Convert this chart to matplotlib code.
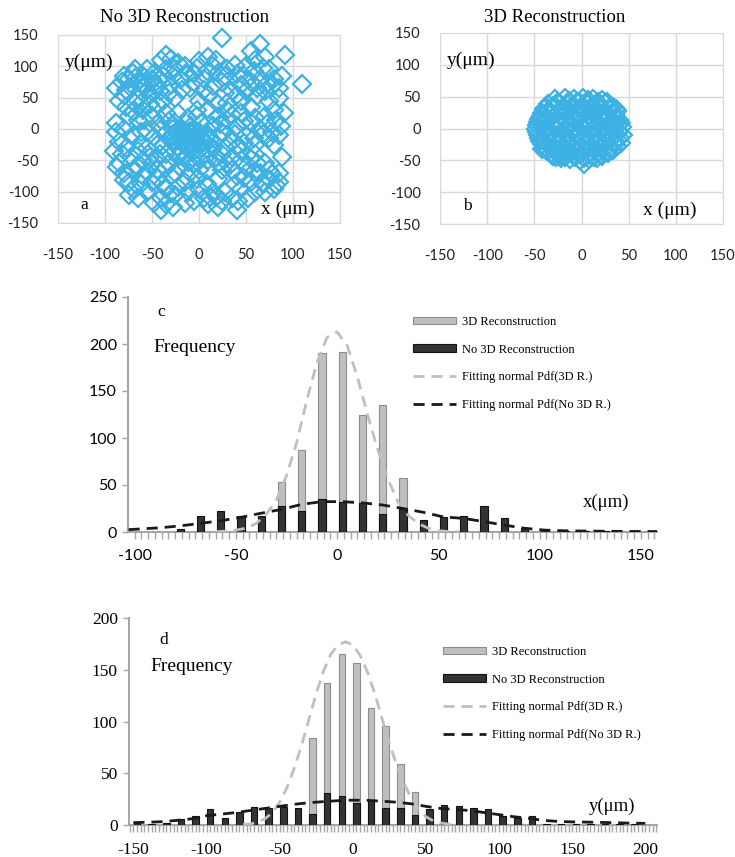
import matplotlib
matplotlib.use("Agg")
import matplotlib.pyplot as plt
from matplotlib.patches import Patch
from matplotlib.lines import Line2D
from matplotlib.ticker import MultipleLocator

plt.rcParams["axes.unicode_minus"] = False

# ---- scatter data (um) ----
a_x = [25, 65, 55, 92, -35, -30, -40, 10, 0, 60, 70, -15, 15, 50, -68, -55, -25, 30, 75, -5, 20, 40, -48, -70,
       110, -80, -75, -60, -50, -38, -20, 5, 80, 65, -65, 25, -58, -45, -30, 45, -72, 85, -62, -42, 35, 50, 70,
       -80, -52, 62, 85, -85, -45, 45, 75, -10, 10, -25, 0, 20, -60, 30,
       55, 80, -60, -35, 45, -75, -50, 20, 70, -65, 30, -88, -25, 2, 55, -8, 15, 40, 87, -80, -40, -18, 65, -10,
       -55, -20, 0, 25, -15, -5, -12, -70, 10, 50, 8, -3, -30, -20, 75, -15, 5, 35, -85, 12, -25, -6, -18, 0,
       60, 80, -12, -78, -10, 15, -55, -5, -25, -65, 45, -35, 5, 25, -45, 60, -22, -8, -28, 20, 30, -2, -40, 40,
       -15, 35, -60, -85, -5, 30, 70, -65, -20, 50, -45, 25, 75, -80, -10, 65, -60, -30, 40, 20, 75, -75, -50,
       -15, 55, 85, 82, -70, -35, 0, 45, 80, -55, 15, 60, -75, -25, -40, 5, 35, -5, 10, -35, 20, -40, 40, -87,
       -45, 10, 55,
       -82, -78, -68, -62, -55, -48, -42, -35, -28, -22, -12, -2, 8, 18, 28, 38, 48, 58, 68, 78, 72, 62, 55,
       40, 28, 15, 5, -5, -18, -32, -38, -52, -68, -78, -70, -58, -45, -32, -22, -12, -2, 10, 22, 35, 48, 60,
       72, 82, 78, 68, 58, 48, 38, 28, 18, 8, -2, -12, -22, -32, -42, -52, -62, -72, -82, -88, -62, -48, -38,
       -28, -18, -8, -15, -22, -5, 2, -10, -17, 3, -28, -70, -62, -55, -45, -38, -30, -22, -12, -2, 8, 18, 28,
       38, 48, 58, 68, 78, 62, 52, 42, 25, 12, -15, -28, -48, -65, -80, 70, 85, 88, 85, 90, 88, -88, -90, 45,
       -25, 10, 0, -35, 35, 20, -50]
a_y = [145, 135, 125, 118, 118, 112, 110, 115, 108, 110, 115, 100, 100, 100, 95, 95, 95, 95, 95, 90, 90, 88, 90, 90,
       72, 85, 80, 85, 80, 85, 80, 80, 80, 80, 75, 75, 70, 70, 70, 70, 65, 65, 60, 60, 60, 60, 60,
       55, 55, 52, 50, 45, 40, 45, 45, 65, 55, 50, 45, 40, 45, 42,
       35, 30, 30, 25, 25, 20, 20, 20, 20, 15, 15, 10, 10, 10, 10, 5, 5, 5, 5, 0, 0, 0, 0, -3,
       -5, -5, -5, -5, -8, -12, -12, -10, -10, -10, -10, -15, -15, -15, -15, -20, -20, -20, -20, -18, -20, -22, -22, -25,
       -25, -25, -25, -30, -30, -30, -30, -35, -35, -35, -35, -40, -40, -40, -25, -40, -8, -5, 0, -12, 30, 20, 15, -28,
       -45, -45, -50, -55, -55, -55, -55, -60, -60, -60, -65, -65, -65, -70, -70, -70, -75, -75, -75, -80, -80, -85, -85,
       -85, -85, -85, -90, -95, -95, -95, -95, -95, -100, -100, -100, -105, -105, -110, -110, -110, -115, -120, -120, -125, -130, -130, -60,
       -48, -50, -48,
       75, 62, 82, 72, 62, 72, 80, 95, 85, 105, 88, 98, 92, 110, 85, 102, 85, 92, 98, 68, 72, 65, 75,
       55, 58, 68, 62, 75, 62, 58, 45, 40, 42, 35, 28, 15, 8, 12, 25, 18, 30, 32, 8, 22, 12, 18,
       8, 15, -5, -8, -15, -22, -8, -28, -45, -32, -45, -52, -45, -55, -40, -45, -22, -45, -40, -5, -5, -12, -25,
       -8, -35, -8, -15, -28, -18, -12, -20, -2, -30, -18, -65, -88, -68, -78, -88, -102, -92, -100, -80, -88, -108, -100,
       -88, -78, -68, -88, -72, -55, -110, -115, -115, -108, -118, -125, -118, -110, -82, -100, -70, -45, -10, 25, 85, 65, -35, -50,
       -70, -65, -65, -62, -65, -55, -55]

b_x = [-28, -18, -8, 2, 12, 22,
       -35, -25, -15, -5, 5, 15, 25, 33,
       -40, -30, -20, -10, 0, 10, 20, 30, 38,
       -43, -33, -23, -13, -3, 7, 17, 27, 37,
       -46, -36, -26, -16, -6, 4, 14, 24, 34, 42,
       -48, -38, -28, -18, -8, 2, 12, 22, 32, 43,
       -46, -36, -26, -16, -6, 4, 14, 24, 34, 44,
       -44, -34, -24, -14, -4, 6, 16, 26, 36, 42,
       -40, -30, -20, -10, 0, 10, 20, 30, 38,
       -32, -22, -12, -2, 8, 18, 28,
       -22, -12, -2, 8, 16, 3, -30, -42,
       -25, -13, -3, 7, 17, 27,
       -38, -30, -20, -10, 0, 10, 20, 30, 37,
       -42, -35, -25, -15, -5, 5, 15, 25, 35,
       -45, -38, -28, -18, -8, 2, 12, 22, 32, 40,
       -47, -41, -31, -21, -11, -1, 9, 19, 29, 39,
       -47, -41, -31, -21, -11, -1, 9, 19, 29, 40,
       -45, -39, -29, -19, -9, 1, 11, 21, 31, 41,
       -42, -35, -25, -15, -5, 5, 15, 25, 35,
       -37, -27, -17, -7, 3, 13, 23, 33,
       -27, -17, -7, 3, 13, 22]
b_y = [46, 48, 47, 48, 46, 44,
       38, 40, 39, 41, 40, 38, 40, 34,
       30, 31, 29, 30, 31, 29, 30, 29, 27,
       20, 21, 19, 20, 21, 19, 20, 21, 18,
       10, 11, 9, 10, 11, 9, 10, 11, 9, 8,
       0, 1, -1, 0, 1, -1, 0, 1, -1, 2,
       -10, -9, -11, -10, -9, -11, -10, -9, -11, -10,
       -20, -21, -19, -20, -21, -19, -20, -21, -19, -22,
       -30, -31, -29, -30, -31, -29, -30, -31, -28,
       -40, -41, -39, -40, -41, -39, -38,
       -47, -48, -49, -48, -46, -55, -43, -32,
       42, 43, 42, 44, 42, 41,
       34, 35, 34, 36, 35, 34, 35, 34, 31,
       25, 26, 24, 25, 26, 24, 25, 26, 23,
       15, 16, 14, 15, 16, 14, 15, 16, 14, 13,
       5, 6, 4, 5, 6, 4, 5, 6, 4, 5,
       -5, -4, -6, -5, -4, -6, -5, -4, -6, -5,
       -15, -14, -16, -15, -14, -16, -15, -14, -16, -15,
       -25, -26, -24, -25, -26, -24, -25, -26, -24,
       -35, -36, -34, -35, -36, -34, -35, -34,
       -44, -45, -44, -46, -44, -43]

# ---- histogram x (panel c) ----
c_centers = [-77.5, -67.5, -57.5, -47.5, -37.5, -27.5, -17.5, -7.5, 2.5, 12.5, 22.5, 32.5,
             42.5, 52.5, 62.5, 72.5, 82.5, 92.5, 102.5, 112.5, 122.5, 132.5, 142.5, 152.5]
c_3d = [0, 0, 0, 0, 0, 53, 87, 190, 192, 125, 135, 57, 0, 0, 0, 0, 0, 0, 0, 0, 0, 0, 0, 0]
c_no3d = [3, 17, 22, 17, 17, 28, 22, 35, 32, 31, 19, 25, 13, 16, 17, 28, 15, 4, 2, 1, 1, 1, 0.5, 0.5]
c_pdf3d_x = [-60, -55, -50, -45, -40, -35, -30, -25, -20, -15, -10, -5, 0, 5, 10, 15, 20, 25, 30, 35, 40, 45, 50, 55, 60]
c_pdf3d_y = [0.3, 1, 2, 4, 9, 19, 34, 60, 95, 140, 180, 207, 213, 198, 165, 125, 88, 57, 32, 18, 9, 4, 1.5, 0.5, 0.2]
c_pdfno_x = [-103, -87.5, -77.5, -67.5, -57.5, -47.5, -37.5, -27.5, -17.5, -7.5, 2.5, 12.5, 22.5, 32.5,
             42.5, 52.5, 62.5, 72.5, 82.5, 92.5, 102.5, 112.5, 122.5, 132.5, 142.5, 158]
c_pdfno_y = [2.5, 4.5, 6.5, 9.2, 12, 15.6, 20, 24, 29.4, 32.3, 32.3, 31, 28.7, 25,
             21, 16, 14.5, 11, 7.4, 4, 2, 1.3, 1, 0.8, 0.6, 0.5]

# ---- histogram y (panel d) ----
d_centers = [-147.5, -137.5, -127.5, -117.5, -107.5, -97.5, -87.5, -77.5, -67.5, -57.5, -47.5, -37.5,
             -27.5, -17.5, -7.5, 2.5, 12.5, 22.5, 32.5, 42.5, 52.5, 62.5, 72.5, 82.5, 92.5, 102.5,
             112.5, 122.5, 132.5, 142.5, 152.5, 162.5, 172.5, 182.5, 192.5]
d_3d = [0, 0, 0, 0, 0, 0, 0, 0, 0, 0, 0, 0, 84, 137, 165, 157, 113, 96, 59, 32,
        0, 0, 0, 0, 0, 0, 0, 0, 0, 0, 0, 0, 0, 0, 0]
d_no3d = [1.5, 1, 2, 5.5, 8.5, 15, 7, 12.5, 17, 16, 17.5, 16.5, 11, 31, 28, 21, 24, 16, 16, 9.5,
          15, 19, 18, 16, 15, 8.5, 7, 9, 1, 1, 0.5, 0.5, 0.5, 0.5, 0.5]
d_pdf3d_x = [-75, -70, -65, -60, -55, -50, -45, -40, -35, -30, -25, -20, -15, -10, -5, 0,
             5, 10, 15, 20, 25, 30, 35, 40, 45, 50, 55, 60, 65, 70]
d_pdf3d_y = [0.5, 1, 3, 6, 12, 22, 36, 55, 77, 102, 127, 149, 165, 174, 177, 174,
             164, 148, 127, 103, 79, 58, 40, 26, 15, 8, 4, 2, 1, 0.5]
d_pdfno_x = [-150, -140, -130, -120, -110, -100, -90, -80, -70, -60, -50, -40, -30, -20, -10, 0,
             10, 20, 30, 40, 50, 60, 70, 80, 90, 100, 110, 120, 130, 140, 150, 160, 170, 180, 190, 200]
d_pdfno_y = [2.3, 2.7, 3.2, 4.5, 6, 9, 10.5, 12, 14, 16, 18, 20, 21.5, 22.6, 23.5, 24,
             23.8, 23, 22, 20.5, 18, 16, 15, 14, 12, 10, 8, 6.5, 4.5, 3.5, 3, 2.8, 2.5, 2.2, 1.8, 1.6]

labels = ["3D Reconstruction", "No 3D Reconstruction",
          "Fitting normal Pdf(3D R.)", "Fitting normal Pdf(No 3D R.)"]

SERIF = "Liberation Serif"
SANS = "Lato"
CYAN = "#3DB1E3"
LGRAY = "#BFBFBF"
DGRAY = "#333333"
AXGRAY = "#A6A6A6"

W, H = 735, 857
fig = plt.figure(figsize=(W / 100, H / 100), dpi=100)


def box(l, t, r, b):
    return [l / W, 1 - b / H, (r - l) / W, (b - t) / H]


def scatter_panel(rect, xs, ys, title, letter, title_x):
    ax = fig.add_axes(rect)
    ax.plot(xs, ys, "D", ms=9, mfc="none", mec=CYAN, mew=1.6, ls="none", clip_on=False, zorder=3)
    ax.set_xlim(-150, 150)
    ax.set_ylim(-150, 150)
    ax.set_xticks(range(-150, 151, 50))
    ax.set_yticks(range(-150, 151, 50))
    ax.grid(True, color="#D9D9D9", lw=1)
    for s in ax.spines.values():
        s.set_color("#D9D9D9")
    ax.tick_params(length=0, labelsize=10.5, colors="#222222")
    ax.tick_params(axis="x", pad=18)
    ax.tick_params(axis="y", pad=14)
    for lab in ax.get_xticklabels() + ax.get_yticklabels():
        lab.set_fontfamily(SANS)
    fig.text(title_x / W, 1 - 18 / H, title, family=SERIF, fontsize=13.5, ha="center", va="center")
    ax.text(-143, 107, "y(\u03bcm)", family=SERIF, fontsize=14, va="center")
    ax.text(-126, -121, letter, family=SERIF, fontsize=12.5, va="center")
    ax.text(94, -128, "x (\u03bcm)", family=SERIF, fontsize=14, ha="center", va="center")
    return ax


scatter_panel(box(58, 35, 340, 223), a_x, a_y, "No 3D Reconstruction", "a", 185)
scatter_panel(box(440, 33, 723, 224), b_x, b_y, "3D Reconstruction", "b", 555)


def hist_panel(rect, centers, v3d, vno, px3, py3, pxn, pyn, xlim, ylim, xstep, tick_step,
               width, tickfont, letter_xy, freq_xy, axis_label, axis_xy, leg_xy):
    ax = fig.add_axes(rect)
    ax.bar(centers, v3d, width=width, color=LGRAY, edgecolor="#8C8C8C", lw=0.8, zorder=2)
    ax.bar(centers, vno, width=width, color=DGRAY, edgecolor="#111111", lw=0.8, zorder=3)
    ax.plot(px3, py3, color=LGRAY, lw=2, ls=(0, (4, 2.5)), zorder=4)
    ax.plot(pxn, pyn, color="#1A1A1A", lw=2, ls=(0, (4, 2.5)), zorder=5)
    ax.set_xlim(*xlim)
    ax.set_ylim(*ylim)
    ax.set_xticks(range(xstep[0], xstep[1] + 1, 50))
    ax.set_yticks(range(0, ylim[1] + 1, 50))
    ax.xaxis.set_minor_locator(MultipleLocator(tick_step))
    for s in ["top", "right"]:
        ax.spines[s].set_visible(False)
    for s in ["left", "bottom"]:
        ax.spines[s].set_color(AXGRAY)
        ax.spines[s].set_linewidth(1.5)
    ax.tick_params(axis="x", which="both", direction="out", length=5, width=1, color=AXGRAY, pad=7)
    ax.tick_params(axis="y", direction="out", length=4, width=1, color=AXGRAY, pad=4)
    fam, size = tickfont
    for lab in ax.get_xticklabels() + ax.get_yticklabels():
        lab.set_fontfamily(fam)
        lab.set_fontsize(size)
    ax.text(*letter_xy[:2], letter_xy[2], family=SERIF, fontsize=12.5, va="center")
    ax.text(*freq_xy, "Frequency", family=SERIF, fontsize=14, va="center")
    ax.text(*axis_xy, axis_label, family=SERIF, fontsize=13.5, ha="center", va="center")
    handles = [Patch(facecolor=LGRAY, edgecolor="#8C8C8C", lw=0.8),
               Patch(facecolor=DGRAY, edgecolor="#111111", lw=0.8),
               Line2D([], [], color=LGRAY, lw=2, ls=(0, (4, 2.5))),
               Line2D([], [], color="#1A1A1A", lw=2, ls=(0, (4, 2.5)))]
    fig.legend(handles, labels, loc="upper left", bbox_to_anchor=(leg_xy[0] / W, 1 - leg_xy[1] / H),
               frameon=False, prop={"family": SERIF, "size": 9}, handlelength=3.4, handleheight=0.55,
               handletextpad=0.5, labelspacing=1.25, borderpad=0, borderaxespad=0)
    return ax


hist_panel(box(128, 297, 657, 532), c_centers, c_3d, c_no3d, c_pdf3d_x, c_pdf3d_y, c_pdfno_x, c_pdfno_y,
           (-103.3, 158), (0, 250), (-100, 150), 10 / 3, 3.6, (SANS, 11.5),
           (-89, 234, "c"), (-91, 196), "x(\u03bcm)", (133, 32), (413, 316))
hist_panel(box(129, 618, 657, 825), d_centers, d_3d, d_no3d, d_pdf3d_x, d_pdf3d_y, d_pdfno_x, d_pdfno_y,
           (-153, 208), (0, 200), (-150, 200), 2.5, 4.5, (SERIF, 12.5),
           (-132, 179, "d"), (-138.6, 153), "y(\u03bcm)", (177, 17.7), (443, 646))

fig.savefig("out.png", dpi=100)
